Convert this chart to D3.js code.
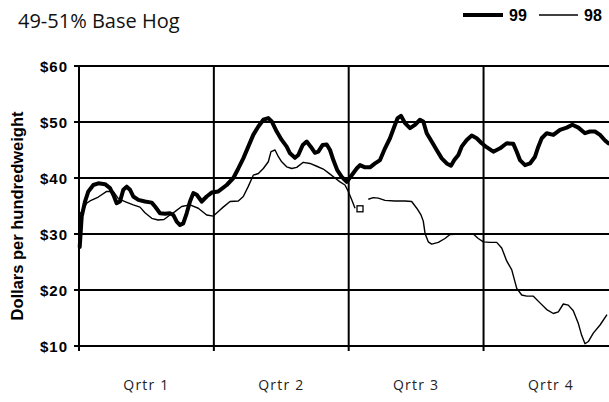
<!DOCTYPE html>
<html><head><meta charset="utf-8">
<script src="https://cdn.jsdelivr.net/npm/d3@7"></script>
<style>
html,body{margin:0;padding:0;background:#fff;overflow:hidden}
svg{display:block}
</style></head>
<body>
<script>
// ---- data ----
const quarterLabels = ["Qrtr 1","Qrtr 2","Qrtr 3","Qrtr 4"];
const yTicks = [10,20,30,40,50,60];
const seriesNames = ["99","98"];

// week of year (0-52) and price ($/cwt)
const weeks99 = [0.07,0.26,0.58,0.9,1.38,1.86,2.51,2.99,3.31,3.63,3.95,4.27,4.6,4.92,5.23,5.72,6.36,7.01,7.33,7.81,8.29,8.77,9.09,9.42,9.74,10.05,10.38,10.7,11.02,11.35,11.83,12.31,12.79,13.43,14.24,14.88,15.36,15.84,16.32,16.8,17.29,17.77,18.25,18.58,19.06,19.54,20.02,20.34,20.82,21.14,21.57,21.95,22.34,22.75,23.07,23.49,23.88,24.2,24.52,24.9,25.33,25.81,26.29,26.77,27.09,27.57,28.05,28.54,29.02,29.5,29.98,30.4,30.72,31.04,31.43,31.91,32.39,32.87,33.19,33.52,34.0,34.48,34.97,35.45,35.86,36.18,36.57,36.89,37.38,37.86,38.34,38.82,39.3,39.94,40.59,41.23,41.87,42.2,42.51,43.0,43.48,43.96,44.28,44.61,45.09,45.73,46.37,47.02,47.56,48.14,48.78,49.26,49.74,50.23,50.71,51.03];
const price99 = [27.7,33.1,35.8,37.6,38.75,39.05,38.9,38.2,37.0,35.5,35.8,37.9,38.45,37.9,36.7,36.1,35.8,35.6,34.9,33.7,33.6,33.7,33.4,32.2,31.6,31.9,33.7,35.8,37.3,37.0,35.8,36.7,37.4,37.6,38.75,40.0,41.7,43.5,45.6,47.7,49.2,50.4,50.7,50.1,48.3,46.8,45.6,44.4,43.6,44.1,45.9,46.5,45.6,44.5,44.7,45.9,46.0,45.0,43.2,41.4,40.2,39.3,40.5,41.7,42.3,41.9,41.9,42.6,43.2,45.3,47.1,49.2,50.7,51.1,49.8,48.9,49.5,50.4,50.1,48.0,46.5,45.0,43.5,42.6,42.2,43.2,44.1,45.6,46.8,47.6,47.1,46.2,45.5,44.7,45.3,46.2,46.1,44.7,43.2,42.3,42.6,43.8,45.6,47.1,48.0,47.7,48.6,49.0,49.5,49.0,48.0,48.3,48.3,47.7,46.7,46.2];

const weeks98 = [0,0.41,0.74,1.06,1.86,2.67,3.31,3.79,4.43,5.23,5.88,6.36,7.01,7.62,8.19,8.77,9.25,9.9,10.7,11.5,12.31,12.95,13.43,13.9,14.56,15.36,15.84,16.32,16.8,17.29,17.77,18.25,18.51,18.9,19.22,19.54,20.02,20.51,20.99,21.62,22.27,22.92,23.55,24.2,24.68,25.16,25.64,25.96,26.29,26.61,26.85,27.09,27.5,27.89,28.37,28.85,29.5,30.46,31.43,32.07,32.56,32.97,33.19,33.36,33.67,34.0,34.64,35.28,35.77,36.73,38.01,38.49,38.98,39.62,40.27,40.75,41.23,41.72,42.2,42.68,43.16,43.8,44.44,45.09,45.73,46.21,46.69,47.17,47.65,48.14,48.46,48.78,49.1,49.58,50.23,50.9];
const price98 = [33.4,34.3,35.5,35.9,36.6,37.6,37.6,36.3,35.8,35.2,34.8,33.8,32.8,32.5,32.6,33.4,34.0,34.9,35.2,34.6,33.4,33.2,34.0,34.8,35.8,35.9,36.7,38.5,40.5,40.8,41.7,42.9,44.7,45.0,43.8,42.9,42.0,41.7,41.9,42.8,42.6,42.1,41.6,40.7,40.0,39.3,38.75,37.6,36.1,34.6,null,34.5,null,36.2,36.5,36.4,36.0,35.9,35.9,35.8,34.6,33.4,32.3,30.1,28.6,28.2,28.5,29.2,29.9,30.0,30.0,29.2,28.6,28.5,28.5,27.5,25.2,23.6,20.3,19.1,18.9,18.9,17.7,16.5,15.8,16.1,17.5,17.3,16.3,14.0,11.9,10.4,10.8,12.3,13.75,15.6];

// ---- chart ----
const W = 609, H = 402;
const svg = d3.select("body").append("svg").attr("width", W).attr("height", H);

const x = d3.scaleLinear().domain([0, 52]).range([79, 618.4]);
const y = d3.scaleLinear().domain([10, 60]).range([346, 66]);

const g = svg.append("g");

// horizontal gridlines
g.selectAll("line.hgrid").data(yTicks).join("line")
  .attr("x1", x(0) - 5).attr("x2", x(52))
  .attr("y1", d => y(d)).attr("y2", d => y(d))
  .attr("stroke", "#000").attr("stroke-width", 2);

// vertical quarter lines incl. left axis
const qBounds = [0, 13, 26, 39];
g.selectAll("line.vgrid").data(qBounds).join("line")
  .attr("x1", d => x(d)).attr("x2", d => x(d))
  .attr("y1", y(60)).attr("y2", y(10) + 5)
  .attr("stroke", "#000").attr("stroke-width", 2);

// y tick labels
g.selectAll("text.ytick").data(yTicks).join("text")
  .attr("x", 68).attr("y", d => y(d) + 5.5)
  .attr("text-anchor", "end")
  .attr("font-family", "Liberation Sans, Arial, sans-serif")
  .attr("font-weight", "bold").attr("font-size", 15)
  .attr("letter-spacing", 1)
  .text(d => "$" + d);

// quarter labels
g.selectAll("text.qlab").data(quarterLabels).join("text")
  .attr("x", (d, i) => x(i * 13 + 6.5))
  .attr("y", 390)
  .attr("text-anchor", "middle")
  .attr("font-family", "Open Sans, sans-serif")
  .attr("font-size", 14).attr("letter-spacing", 1.2)
  .attr("fill", "#222")
  .text(d => d);

// y axis title
svg.append("text")
  .attr("transform", "translate(23,216) rotate(-90)")
  .attr("text-anchor", "middle")
  .attr("font-family", "Liberation Sans Narrow, Liberation Sans, Arial, sans-serif")
  .attr("font-weight", "bold").attr("font-size", 16.5)
  .text("Dollars per hundredweight");

// subtitle
svg.append("text")
  .attr("x", 18).attr("y", 28)
  .attr("font-family", "Open Sans, sans-serif")
  .attr("font-size", 20).attr("fill", "#111")
  .text("49-51% Base Hog");

// lines
const d99 = weeks99.map((w, i) => ({w, v: price99[i]}));
const d98 = weeks98.map((w, i) => ({w, v: price98[i]}));
const line = d3.line().defined(d => d.v != null).x(d => x(d.w)).y(d => y(d.v));

svg.append("path").datum(d98).attr("d", line)
  .attr("fill", "none").attr("stroke", "#000").attr("stroke-width", 1.4)
  .attr("stroke-linejoin", "round");

// isolated points as small open squares
const iso = d98.filter((d, i) => d.v != null &&
  (i === 0 || d98[i - 1].v == null) && (i === d98.length - 1 || d98[i + 1].v == null));
svg.selectAll("rect.iso").data(iso).join("rect")
  .attr("x", d => x(d.w) - 3).attr("y", d => y(d.v) - 3)
  .attr("width", 6).attr("height", 6)
  .attr("fill", "#fff").attr("stroke", "#000").attr("stroke-width", 1.3);

svg.append("path").datum(d99).attr("d", line)
  .attr("fill", "none").attr("stroke", "#000").attr("stroke-width", 4)
  .attr("stroke-linejoin", "round").attr("stroke-linecap", "round");

// legend
const leg = svg.append("g");
const legItems = [
  {name: seriesNames[0], x1: 463, x2: 503, tx: 509, sw: 4},
  {name: seriesNames[1], x1: 539, x2: 578, tx: 584, sw: 1.4}
];
leg.selectAll("line").data(legItems).join("line")
  .attr("x1", d => d.x1).attr("x2", d => d.x2)
  .attr("y1", 15).attr("y2", 15)
  .attr("stroke", "#000").attr("stroke-width", d => d.sw);
leg.selectAll("text").data(legItems).join("text")
  .attr("x", d => d.tx).attr("y", 20.5)
  .attr("font-family", "Liberation Sans Narrow, Liberation Sans, Arial, sans-serif")
  .attr("font-weight", "bold").attr("font-size", 16)
  .text(d => d.name);
</script>
</body></html>
